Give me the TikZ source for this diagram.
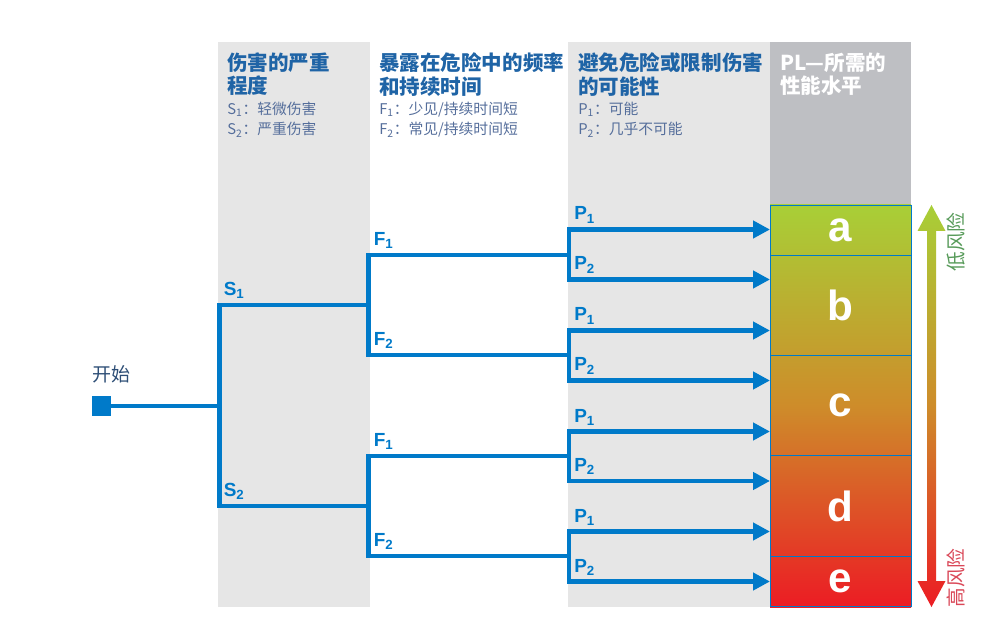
\documentclass[tikz,border=0pt]{standalone}
\usepackage{fontspec}
\setmainfont{Noto Sans CJK SC}
\newfontfamily\lsans{Liberation Sans}
\usetikzlibrary{arrows.meta,positioning,calc}
\definecolor{lnb}{RGB}{0,122,201}
\definecolor{hdb}{RGB}{31,100,166}
\definecolor{txb}{RGB}{85,110,155}
\definecolor{stb}{RGB}{45,78,118}
\definecolor{pnl}{RGB}{230,230,230}
\definecolor{plh}{RGB}{190,191,195}
\definecolor{rgr}{RGB}{168,207,55}
\definecolor{ror}{RGB}{206,140,42}
\definecolor{rrd}{RGB}{236,28,36}
\definecolor{lgt}{RGB}{88,155,90}
\definecolor{hgt}{RGB}{218,72,88}
\tikzset{
  hd/.style={anchor=north west,align=left,inner sep=0pt,text=hdb,
    font=\bfseries\fontsize{14.6}{16.7}\selectfont},
  ds/.style={anchor=north west,align=left,inner sep=0pt,text=txb,
    font=\fontsize{10.5}{14.6}\selectfont},
  lbl/.style={anchor=base west,inner sep=0pt,text=lnb,
    font=\lsans\bfseries\fontsize{13.5}{13.5}\selectfont},
  br/.style={line width=3.2pt,draw=lnb},
  parr/.style={br,{Triangle[length=12pt,width=12pt]}-{Triangle[length=12pt,width=12pt]}},
  pl/.style={rectangle,draw=lnb,line width=0.6pt,minimum width=3.525cm,
    minimum height=#1,inner sep=0pt,outer sep=0pt,text=white,
    font=\lsans\bfseries\fontsize{30}{30}\selectfont},
  pl/.default=2.5cm,
  startsq/.style={rectangle,fill=lnb,minimum size=0.475cm,inner sep=0pt},
  risk/.style={rotate=90,inner sep=0pt,font=\fontsize{14}{14}\selectfont},
}
\begin{document}
\begin{tikzpicture}[x=0.025cm,y=-0.025cm]
    \useasboundingbox[fill=white] (0,0) rectangle (992,635);
    % column panels
    \fill[pnl] (218,42) rectangle (370,607);
    \fill[pnl] (568,42) rectangle (770,607);
    \fill[plh] (770,42) rectangle (911,205);

    % column headers
    \node[hd] (hs) at (227,52.5) {伤害的严重\\程度};
    \node[ds] (ds) at (227,101.5) {S\textsubscript{1}：轻微伤害\\S\textsubscript{2}：严重伤害};
    \node[hd] (hf) at (379,52.5) {暴露在危险中的频率\\和持续时间};
    \node[ds] (df) at (379,101.5) {F\textsubscript{1}：少见/持续时间短\\F\textsubscript{2}：常见/持续时间短};
    \node[hd] (hp) at (578,52.5) {避免危险或限制伤害\\的可能性};
    \node[ds] (dp) at (578,101.5) {P\textsubscript{1}：可能\\P\textsubscript{2}：几乎不可能};
    \node[hd,text=white] (hpl) at (780,52.5) {PL—所需的\\性能水平};

    % performance levels a to e
    \shade[top color=rgr,bottom color=rrd,middle color=ror] (770,205) rectangle (911,607);
    \node[pl=1.25cm,anchor=north west] (pla) at (770,205) {a};
    \node[pl,below=0pt of pla] (plb) {b};
    \node[pl=2.52cm,below=0pt of plb] (plc) {c};
    \node[pl=2.52cm,below=0pt of plc] (pld) {d};
    \node[pl=1.25cm,below=0pt of pld] (ple) {e};

    % risk scale
    \shade[top color=rgr,bottom color=rrd,middle color=ror]
      (931.5,205) -- (945.5,231) -- (936,231) -- (936,581) -- (945.5,581)
      -- (931.5,607) -- (917.5,581) -- (927,581) -- (927,231) -- (917.5,231) -- cycle;
    \node[risk,text=lgt] (lowr) at (956,242) {低风险};
    \node[risk,text=hgt] (highr) at (956,578) {高风险};

    % decision tree
    \node[startsq] (start) at (101.3,406) {};
    \node[anchor=north west,inner sep=0pt,text=stb,font=\fontsize{13.5}{13.5}\selectfont]
      (startl) at (92,365) {开始};
    \coordinate (sj) at (219.5,406);
    \coordinate (s1) at (219.5,305);
    \coordinate (s2) at (219.5,506);
    \coordinate (m1) at (368.5,305);
    \coordinate (m2) at (368.5,506);
    \coordinate (k1) at (368.5,255);
    \coordinate (k2) at (368.5,355);
    \coordinate (k3) at (368.5,456);
    \coordinate (k4) at (368.5,556);
    \coordinate (q1) at (569,255);
    \coordinate (q2) at (569,355);
    \coordinate (q3) at (569,456);
    \coordinate (q4) at (569,556);
    \coordinate (r1) at (569,229.5);
    \coordinate (r2) at (569,279.5);
    \coordinate (r3) at (569,330.5);
    \coordinate (r4) at (569,380.5);
    \coordinate (r5) at (569,431.5);
    \coordinate (r6) at (569,481);
    \coordinate (r7) at (569,531.5);
    \coordinate (r8) at (569,581.5);

    \draw[br] (start) -- (sj);
    \draw[br] (m1) -- (s1) -- (s2) -- (m2);
    \draw[br] (q1) -- (k1) -- (k2) -- (q2);
    \draw[br] (q3) -- (k3) -- (k4) -- (q4);
    \draw[parr] (r1 -| pla.west) -- (r1) -- (r2) -- (r2 -| pla.west);
    \draw[parr] (r3 -| pla.west) -- (r3) -- (r4) -- (r4 -| pla.west);
    \draw[parr] (r5 -| pla.west) -- (r5) -- (r6) -- (r6 -| pla.west);
    \draw[parr] (r7 -| pla.west) -- (r7) -- (r8) -- (r8 -| pla.west);

    % branch labels
    \node[lbl] (ls1) at ([shift={(4,-9.5)}]s1) {S\textsubscript{1}};
    \node[lbl] (ls2) at ([shift={(4,-9.5)}]s2) {S\textsubscript{2}};
    \node[lbl] (lf1) at ([shift={(5,-9.5)}]k1) {F\textsubscript{1}};
    \node[lbl] (lf2) at ([shift={(5,-9.5)}]k2) {F\textsubscript{2}};
    \node[lbl] (lf3) at ([shift={(5,-9.5)}]k3) {F\textsubscript{1}};
    \node[lbl] (lf4) at ([shift={(5,-9.5)}]k4) {F\textsubscript{2}};
    \node[lbl] (lp1) at ([shift={(5,-9.5)}]r1) {P\textsubscript{1}};
    \node[lbl] (lp2) at ([shift={(5,-9.5)}]r2) {P\textsubscript{2}};
    \node[lbl] (lp3) at ([shift={(5,-9.5)}]r3) {P\textsubscript{1}};
    \node[lbl] (lp4) at ([shift={(5,-9.5)}]r4) {P\textsubscript{2}};
    \node[lbl] (lp5) at ([shift={(5,-9.5)}]r5) {P\textsubscript{1}};
    \node[lbl] (lp6) at ([shift={(5,-9.5)}]r6) {P\textsubscript{2}};
    \node[lbl] (lp7) at ([shift={(5,-9.5)}]r7) {P\textsubscript{1}};
    \node[lbl] (lp8) at ([shift={(5,-9.5)}]r8) {P\textsubscript{2}};
  \end{tikzpicture}
\end{document}
